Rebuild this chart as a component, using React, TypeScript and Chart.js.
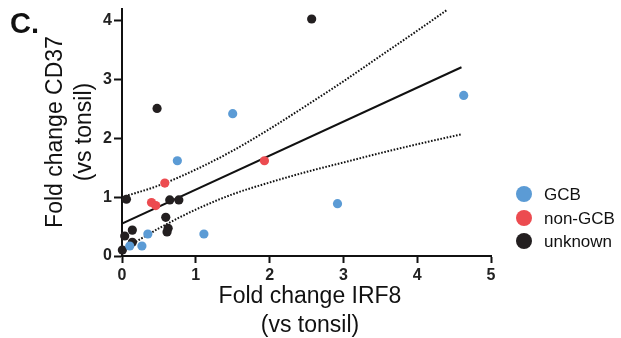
import React, { useEffect, useRef } from "react";
import { Chart, registerables } from "chart.js";

Chart.register(...registerables);

// ---- Data ----
const gcbX = [1.5, 0.75, 0.35, 1.11, 0.105, 0.27, 2.92, 4.63];
const gcbY = [2.42, 1.62, 0.374, 0.374, 0.17, 0.17, 0.89, 2.73];

const nonGcbX = [1.93, 0.58, 0.4, 0.457];
const nonGcbY = [1.62, 1.24, 0.91, 0.857];

const unknownX = [2.57, 0.475, 0.06, 0.647, 0.77, 0.593, 0.625, 0.61, 0.14, 0.037, 0.14, 0.005];
const unknownY = [4.03, 2.51, 0.965, 0.953, 0.953, 0.658, 0.47, 0.41, 0.44, 0.34, 0.233, 0.1];

const fitX = [0, 4.6];
const fitY = [0.55, 3.21];

const upperX = [0, 0.5, 1.0, 1.5, 2.0, 2.5, 3.0, 3.5, 4.0, 4.4];
const upperY = [1.0, 1.2, 1.47, 1.79, 2.16, 2.56, 2.97, 3.4, 3.83, 4.18];

const lowerX = [0, 0.5, 1.0, 1.5, 2.0, 2.5, 3.0, 3.5, 4.0, 4.6];
const lowerY = [0.1, 0.47, 0.79, 1.05, 1.25, 1.43, 1.59, 1.75, 1.9, 2.07];

const xTicks = [0, 1, 2, 3, 4, 5];
const yTicks = [0, 1, 2, 3, 4];

const seriesLabels = ["GCB", "non-GCB", "unknown"];
const seriesColors = ["#5b9bd5", "#ec4b50", "#231f20"];

const FONT = "'Liberation Sans', Arial, Helvetica, sans-serif";

const pts = (xs: number[], ys: number[]) => xs.map((x, i) => ({ x, y: ys[i] }));

const annotationsPlugin = {
  id: "annotations",
  afterDraw(chart: any) {
    const ctx = chart.ctx as CanvasRenderingContext2D;
    ctx.save();
    // Panel letter
    ctx.fillStyle = "#111";
    ctx.font = `bold 29px ${FONT}`;
    ctx.textAlign = "left";
    ctx.textBaseline = "alphabetic";
    ctx.fillText("C.", 10, 33);

    // X axis title
    ctx.font = `23px ${FONT}`;
    ctx.textAlign = "center";
    ctx.fillText("Fold change IRF8", 310, 303);
    ctx.fillText("(vs tonsil)", 310, 332);

    // Y axis title (rotated)
    ctx.save();
    ctx.translate(62, 132);
    ctx.rotate(-Math.PI / 2);
    ctx.fillText("Fold change CD37", 0, 0);
    ctx.restore();
    ctx.save();
    ctx.translate(91, 132);
    ctx.rotate(-Math.PI / 2);
    ctx.fillText("(vs tonsil)", 0, 0);
    ctx.restore();

    // Legend
    const ys = [194, 218, 241];
    ctx.font = `17px ${FONT}`;
    ctx.textAlign = "left";
    ctx.textBaseline = "middle";
    seriesLabels.forEach((lab, i) => {
      ctx.beginPath();
      ctx.fillStyle = seriesColors[i];
      ctx.arc(524, ys[i], 8, 0, Math.PI * 2);
      ctx.fill();
      ctx.fillStyle = "#111";
      ctx.fillText(lab, 544, ys[i] + 1);
    });
    ctx.restore();
  },
};

export default function App() {
  const ref = useRef<HTMLCanvasElement | null>(null);

  useEffect(() => {
    if (!ref.current) return;
    const lineCommon = {
      type: "line" as const,
      showLine: true,
      pointRadius: 0,
      borderColor: "#111",
      backgroundColor: "#111",
      fill: false,
      tension: 0.4,
      cubicInterpolationMode: "monotone" as const,
    };
    const chart = new Chart(ref.current, {
      type: "scatter",
      data: {
        datasets: [
          {
            label: seriesLabels[0],
            data: pts(gcbX, gcbY),
            backgroundColor: seriesColors[0],
            borderColor: seriesColors[0],
            pointRadius: 4.6,
            borderWidth: 0,
            clip: false as any,
            order: 0,
          },
          {
            label: seriesLabels[1],
            data: pts(nonGcbX, nonGcbY),
            backgroundColor: seriesColors[1],
            borderColor: seriesColors[1],
            pointRadius: 4.6,
            borderWidth: 0,
            clip: false as any,
            order: 0,
          },
          {
            label: seriesLabels[2],
            data: pts(unknownX, unknownY),
            backgroundColor: seriesColors[2],
            borderColor: seriesColors[2],
            pointRadius: 4.6,
            borderWidth: 0,
            clip: false as any,
            order: 0,
          },
          {
            ...lineCommon,
            label: "fit",
            data: pts(fitX, fitY),
            borderWidth: 2,
            order: 1,
          } as any,
          {
            ...lineCommon,
            label: "upper",
            data: pts(upperX, upperY),
            borderWidth: 2,
            borderDash: [1.6, 1.6],
            order: 1,
          } as any,
          {
            ...lineCommon,
            label: "lower",
            data: pts(lowerX, lowerY),
            borderWidth: 2,
            borderDash: [1.6, 1.6],
            order: 1,
          } as any,
        ],
      },
      options: {
        animation: false,
        responsive: false,
        devicePixelRatio: 1,
        layout: { padding: { left: 0, top: 9, right: 130, bottom: 0 } },
        plugins: {
          legend: { display: false },
          tooltip: { enabled: false },
          title: { display: false },
        },
        scales: {
          x: {
            type: "linear",
            min: 0,
            max: 5,
            afterBuildTicks: (s: any) => {
              s.ticks = xTicks.map((v) => ({ value: v }));
            },
            afterFit: (s: any) => {
              s.height = 82;
              s.paddingLeft = 0;
              s.paddingRight = 0;
            },
            ticks: {
              color: "#222",
              font: { family: FONT, size: 16, weight: "bold" },
              padding: 3,
              maxRotation: 0,
            },
            grid: {
              drawOnChartArea: false,
              drawTicks: true,
              tickLength: 7,
              tickWidth: 2,
              tickColor: "#111",
            },
            border: { color: "#111", width: 2 },
          },
          y: {
            type: "linear",
            min: 0,
            max: 4.2,
            afterBuildTicks: (s: any) => {
              s.ticks = yTicks.map((v) => ({ value: v }));
            },
            afterFit: (s: any) => {
              s.width = 122;
              s.paddingTop = 0;
              s.paddingBottom = 0;
            },
            ticks: {
              color: "#222",
              font: { family: FONT, size: 16, weight: "bold" },
              padding: 2,
            },
            grid: {
              drawOnChartArea: false,
              drawTicks: true,
              tickLength: 8,
              tickWidth: 2,
              tickColor: "#111",
            },
            border: { color: "#111", width: 2 },
          },
        },
      },
      plugins: [annotationsPlugin],
    });
    return () => chart.destroy();
  }, []);

  return (
    <div style={{ position: "fixed", left: 0, top: 0, width: 621, height: 338, background: "#fff" }}>
      <canvas ref={ref} width={621} height={338} style={{ width: 621, height: 338, display: "block" }} />
    </div>
  );
}
